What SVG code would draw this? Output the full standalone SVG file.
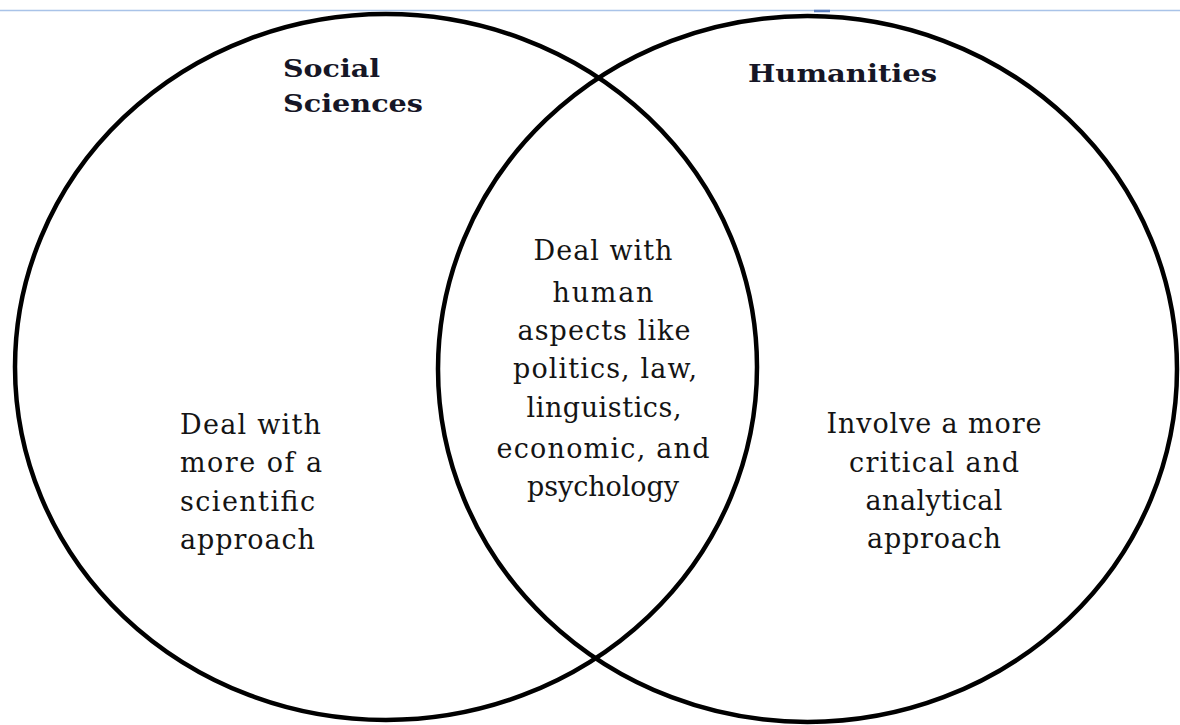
<svg xmlns="http://www.w3.org/2000/svg" width="1180" height="725" viewBox="0 0 1180 725">
  <style>
    .ring { fill: none; stroke: #000; stroke-width: 4.5; }
    .title { font-family: "DejaVu Serif", "Liberation Serif", serif; font-weight: bold; font-size: 24px; fill: #161626; }
    .body { font-family: "DejaVu Serif", "Liberation Serif", serif; font-size: 27px; fill: #141414; }
    .mid { text-anchor: middle; }
  </style>
  <rect width="1180" height="725" fill="#fff"/>
  <!-- page rule along the top -->
  <line x1="0" y1="10.5" x2="1180" y2="10.5" stroke="#a9c3e8" stroke-width="1.5"/>
  <line x1="814" y1="11" x2="830" y2="11" stroke="#5b7fc0" stroke-width="2.5"/>

  <g id="social-sciences">
    <ellipse class="ring" cx="386" cy="367" rx="371" ry="353"/>
    <text class="title" x="283" y="77" textLength="97" lengthAdjust="spacingAndGlyphs">Social</text>
    <text class="title" x="283" y="112" textLength="140" lengthAdjust="spacingAndGlyphs">Sciences</text>
    <text class="body" x="180" y="434" textLength="141">Deal with</text>
    <text class="body" x="180" y="472" textLength="142">more of a</text>
    <text class="body" x="180" y="511" textLength="135">scientific</text>
    <text class="body" x="180" y="549" textLength="135">approach</text>
  </g>

  <g id="humanities">
    <ellipse class="ring" cx="807.5" cy="369" rx="369.5" ry="353"/>
    <text class="title" x="748" y="82" textLength="189" lengthAdjust="spacingAndGlyphs">Humanities</text>
    <text class="body mid" x="934" y="433" textLength="215">Involve a more</text>
    <text class="body mid" x="934" y="472" textLength="170">critical  and</text>
    <text class="body mid" x="934" y="510" textLength="137">analytical</text>
    <text class="body mid" x="934" y="548" textLength="134">approach</text>
  </g>

  <g id="overlap">
    <text class="body mid" x="603" y="260" textLength="139">Deal with</text>
    <text class="body mid" x="603" y="302" textLength="101">human</text>
    <text class="body mid" x="604" y="340" textLength="173">aspects like</text>
    <text class="body mid" x="605" y="378" textLength="184">politics, law,</text>
    <text class="body mid" x="604" y="417" textLength="155">linguistics,</text>
    <text class="body mid" x="603" y="458" textLength="213">economic, and</text>
    <text class="body mid" x="603" y="496" textLength="152">psychology</text>
  </g>

  <g id="connectors"/>
</svg>
